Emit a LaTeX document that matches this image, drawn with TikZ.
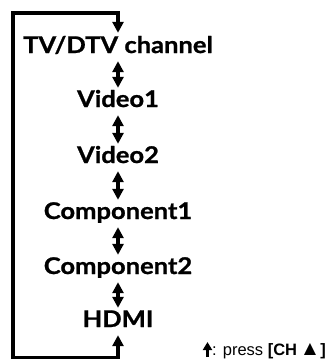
\documentclass[tikz,border=0pt]{standalone}
\usepackage{fontspec}
\setmainfont{Liberation Sans}
\newfontfamily\labfont{Lato}[FakeStretch=1.11,FakeBold=1]
\usetikzlibrary{arrows.meta}
\tikzset{
  lab/.style={font=\labfont\bfseries\fontsize{23}{25}\selectfont, inner sep=0pt, anchor=base, text height=15pt, text depth=0pt},
  tip/.style={Triangle[width=11pt,length=11pt]},
  dbl/.style={line width=3.2pt, {Triangle[width=11pt,length=11pt]}-{Triangle[width=11pt,length=11pt]}},
  loopline/.style={line width=3.6pt, {Triangle[width=11pt,length=11pt]}-{Triangle[width=11pt,length=11pt]}},
  legarrow/.style={line width=3pt, -{Triangle[width=9pt,length=8pt]}},
}
\begin{document}
\begin{tikzpicture}[x=1pt,y=-1pt]
\useasboundingbox (0,0) rectangle (328,361);
\node[lab] (tv) at (118,53) {TV/DTV channel};
\node[lab] (v1) at (118,107) {Video1};
\node[lab] (v2) at (118,163) {Video2};
\node[lab] (c1) at (118,219) {Component1};
\node[lab] (c2) at (118,274) {Component2};
\node[lab] (hd) at (118,327) {HDMI};
\draw[dbl] ([yshift=-8pt]tv.south) -- ([yshift=4pt]v1.north);
\draw[dbl] ([yshift=-8pt]v1.south) -- ([yshift=4pt]v2.north);
\draw[dbl] ([yshift=-8pt]v2.south) -- ([yshift=4pt]c1.north);
\draw[dbl] ([yshift=-8pt]c1.south) -- ([yshift=4pt]c2.north);
\draw[dbl] ([yshift=-8pt]c2.south) -- ([yshift=4pt]hd.north);
\coordinate (tl) at (13,13);
\coordinate (bl) at (13,357.5);
\draw[loopline] ([yshift=-8pt]hd.south) -- (hd.south |- bl) -- (bl) -- (tl) -- (tv.north |- tl) -- ([yshift=5pt]tv.north);
\coordinate (la0) at (207.5,357);
\coordinate (la1) at (207.5,342);
\draw[legarrow] (la0) -- (la1);
\node[font=\fontsize{16.5}{18}\selectfont, inner sep=0pt, anchor=base west] (leg) at (212,355) {: press \textbf{[CH\,\scalebox{1.25}{▲}]}};
\end{tikzpicture}
\end{document}
